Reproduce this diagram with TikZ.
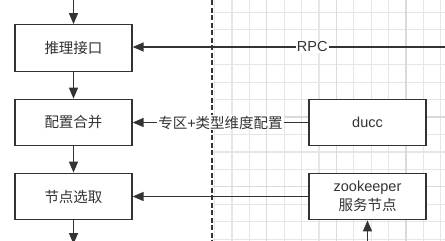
\documentclass[tikz,border=0pt]{standalone}
\usepackage{fontspec}
\setmainfont{Liberation Sans}
\newfontfamily\cjk{Noto Sans CJK SC}
\usetikzlibrary{arrows.meta}
\definecolor{ink}{HTML}{333333}
\definecolor{gridminor}{HTML}{E6E6E6}
\definecolor{gridmajor}{HTML}{DADADA}
\tikzset{
  stagebox/.style={draw=ink, line width=1.3pt, fill=white, text=ink,
    minimum width=117pt, minimum height=46.5pt, inner sep=0pt, align=center,
    font=\fontsize{14.5pt}{19pt}\selectfont},
  flow/.style={draw=ink, line width=1.4pt, -{Triangle[length=11pt,width=9pt]}},
  tag/.style={fill=white, text=ink, inner sep=1pt,
    font=\fontsize{14.5pt}{17pt}\selectfont},
  divider/.style={draw=ink, line width=1.1pt, dash pattern=on 5pt off 2.5pt},
}
\begin{document}
\begin{tikzpicture}[x=1pt, y=-1pt]
  \useasboundingbox (0,0) rectangle (445,241);
  \fill[white] (0,0) rectangle (445,241);

  % background grid of the external side
  \begin{scope}
    \clip (212,0) rectangle (445,241);
    \foreach \i in {0,...,13} {
      \pgfmathsetmacro{\gx}{214.5+17.4*\i}
      \draw[gridminor, line width=1.2pt] (\gx,0) -- (\gx,241);
    }
    \foreach \i in {0,...,13} {
      \pgfmathsetmacro{\gy}{12.3+17.45*\i}
      \draw[gridminor, line width=1.2pt] (212,\gy) -- (445,\gy);
    }
    \foreach \gx in {266.7,336.3,405.9}
      \draw[gridmajor, line width=1.3pt] (\gx,0) -- (\gx,241);
    \foreach \gy in {47.2,117.1,186.8}
      \draw[gridmajor, line width=1.3pt] (212,\gy) -- (445,\gy);
  \end{scope}

  % boundary between the two sides
  \draw[divider] (212,0) -- (212,241);

  % processing stages
  \node[stagebox] (infer) at (73.5,48) {\cjk 推理接口};
  \node[stagebox] (merge) at (73.5,122.5) {\cjk 配置合并};
  \node[stagebox] (select) at (73.5,196.5) {\cjk 节点选取};

  % external sources
  \node[stagebox] (ducc) at (367.5,122.5) {ducc};
  \node[stagebox] (zk) at (367.5,196.5) {zookeeper\\{\cjk 服务节点}};

  % loose ends
  \coordinate (intop) at (73.5,-1);
  \coordinate (outbot) at (73.5,244);
  \coordinate (rpcsrc) at (446,47);
  \coordinate (zksrc) at (367.5,242);

  % main flow
  \draw[flow] (intop) -- (infer.north);
  \draw[flow] (infer.south) -- (merge.north);
  \draw[flow] (merge.south) -- (select.north);
  \draw[flow] (select.south) -- (outbot);

  % inputs
  \draw[flow] (rpcsrc) -- node[tag, pos=0.427] {RPC} (infer.east |- rpcsrc);
  \draw[flow] (ducc.west) -- node[tag] {{\cjk 专区}+{\cjk 类型维度配置}} (merge.east);
  \draw[flow] (zk.west) -- (select.east);
  \draw[flow] (zksrc) -- (zk.south);
\end{tikzpicture}
\end{document}
